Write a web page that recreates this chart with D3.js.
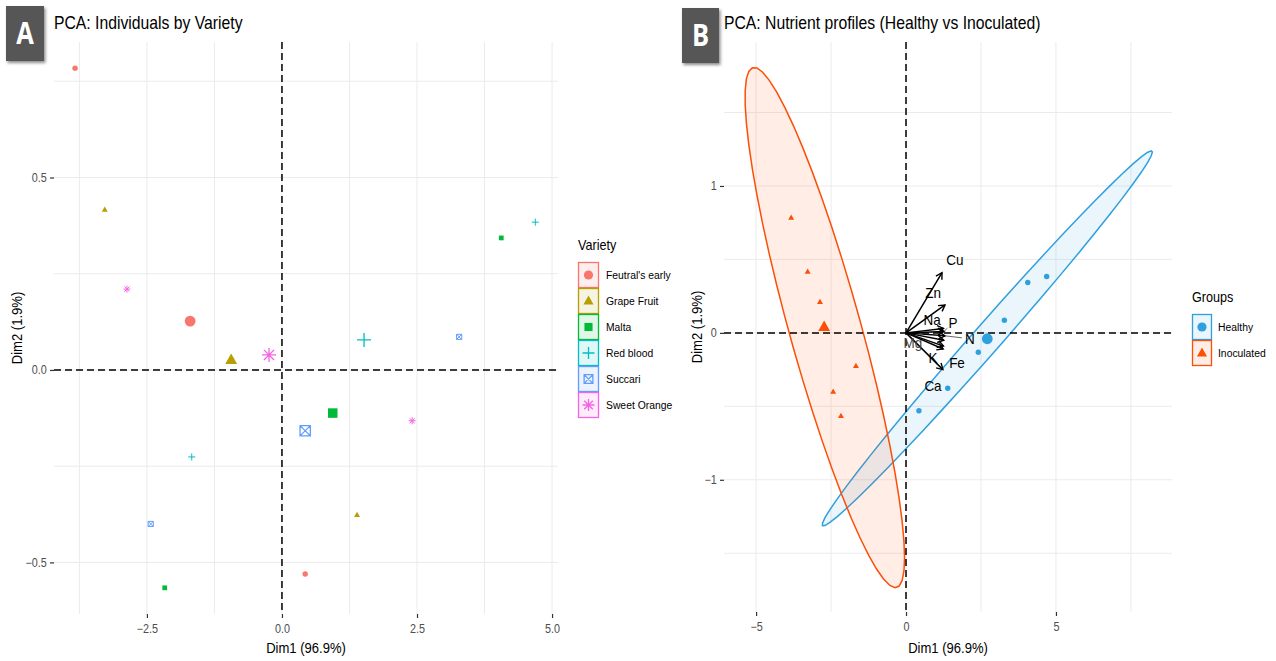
<!DOCTYPE html>
<html>
<head>
<meta charset="utf-8">
<script src="https://cdn.jsdelivr.net/npm/d3@7"></script>
<style>
  body { margin: 0; background: #fff; }
  svg { display: block; font-family: "Liberation Sans", Arial, sans-serif; }
</style>
</head>
<body>
<svg id="chart" width="1276" height="661"></svg>
<script>
// Varieties (panel A legend)
const varieties = ["Feutral's early", "Grape Fruit", "Malta", "Red blood", "Succari", "Sweet Orange"];
const varietyColors = ["#F8766D", "#B79F00", "#00BA38", "#00BFC4", "#619CFF", "#F564E3"];
const varietyShapes = ["circle", "triangle", "square", "plus", "squareCross", "asterisk"];

// Individuals: variety, group and PCA coordinates
const indVariety = ["Feutral's early", "Grape Fruit", "Sweet Orange", "Red blood", "Succari", "Malta",
                    "Feutral's early", "Grape Fruit", "Sweet Orange", "Succari", "Malta", "Red blood"];
const indGroup = ["Inoculated", "Inoculated", "Inoculated", "Inoculated", "Inoculated", "Inoculated",
                  "Healthy", "Healthy", "Healthy", "Healthy", "Healthy", "Healthy"];
const indDim1 = [-3.83, -3.28, -2.87, -1.67, -2.43, -2.17, 0.43, 1.39, 2.41, 3.28, 4.06, 4.69];
const indDim2 = [0.784, 0.416, 0.210, -0.226, -0.400, -0.566, -0.530, -0.377, -0.132, 0.086, 0.343, 0.384];

// Variety centroids (large points, panel A)
const varietyMeanDim1 = [-1.70, -0.94, 0.94, 1.52, 0.43, -0.24];
const varietyMeanDim2 = [0.127, 0.026, -0.112, 0.078, -0.158, 0.039];

// Groups (panel B)
const groups = ["Healthy", "Inoculated"];
const groupColors = ["#2E9FDF", "#FC4E07"];
const groupShapes = ["circle", "triangle"];
const groupMeanDim1 = [2.71, -2.73];
const groupMeanDim2 = [-0.04, 0.04];

// Nutrient variables (arrows, panel B)
const nutrients = ["Cu", "Zn", "Na", "P", "N", "Mg", "K", "Fe", "Ca"];
const loadDim1 = [1.20, 1.30, 1.25, 1.27, 1.30, 1.26, 1.25, 1.23, 1.24];
const loadDim2 = [0.41, 0.19, 0.03, 0.01, -0.02, -0.05, -0.09, -0.25, -0.11];
const labelDim1 = [1.63, 0.90, 0.87, 1.57, 2.13, 0.23, 0.90, 1.70, 0.90];
const labelDim2 = [0.50, 0.27, 0.09, 0.07, -0.04, -0.07, -0.17, -0.20, -0.36];
const labelSegment = [false, false, false, true, true, false, false, false, false];

// Axis ticks
const aXTicks = [-2.5, 0, 2.5, 5];
const aXMinor = [-3.75, -1.25, 1.25, 3.75];
const aYTicks = [-0.5, 0, 0.5];
const aYMinor = [-0.25, 0.25, 0.75];
const bXTicks = [-5, 0, 5];
const bXMinor = [-2.5, 2.5, 7.5];
const bYTicks = [-1, 0, 1];
const bYMinor = [-1.5, -0.5, 0.5, 1.5];

const SX = 0.9; // horizontal squeeze of the reference's text
const svg = d3.select("#chart");

const defs = svg.append("defs");
const shadow = defs.append("filter").attr("id", "shadow").attr("x", "-30%").attr("y", "-30%")
  .attr("width", "160%").attr("height", "160%");
shadow.append("feDropShadow").attr("dx", 1.5).attr("dy", 2).attr("stdDeviation", 1.5)
  .attr("flood-color", "#000").attr("flood-opacity", 0.45);

function label(g, x, y, s, o = {}) {
  return g.append("text")
    .attr("transform", `translate(${x},${y})` + (o.rotate ? ` rotate(${o.rotate})` : "") + ` scale(${SX},1)`)
    .attr("text-anchor", o.anchor || "start")
    .attr("dy", o.dy || "0.35em")
    .attr("font-size", o.size || 11)
    .attr("font-weight", o.weight || "normal")
    .attr("fill", o.fill || "#000")
    .text(s);
}

function shapePath(shape, r) {
  switch (shape) {
    case "circle":
      return `M${r},0A${r},${r} 0 1,1 ${-r},0A${r},${r} 0 1,1 ${r},0Z`;
    case "triangle":
      return `M0,${-r * 1.2}L${r * 1.1},${r * 0.75}L${-r * 1.1},${r * 0.75}Z`;
    case "square":
      return `M${-r * 0.88},${-r * 0.88}h${r * 1.76}v${r * 1.76}h${-r * 1.76}Z`;
    case "plus":
      return `M${-r * 1.3},0H${r * 1.3}M0,${-r * 1.3}V${r * 1.3}`;
    case "squareCross": {
      const s = r * 0.95;
      return `M${-s},${-s}h${2 * s}v${2 * s}h${-2 * s}ZM${-s},${-s}L${s},${s}M${s},${-s}L${-s},${s}`;
    }
    case "asterisk": {
      const s = r * 1.3, d = s * 0.72;
      return `M${-s},0H${s}M0,${-s}V${s}M${-d},${-d}L${d},${d}M${d},${-d}L${-d},${d}`;
    }
  }
}
const filledShape = (shape) => ["circle", "triangle", "square"].includes(shape);

function drawPoint(g, x, y, shape, color, r) {
  const p = g.append("path").attr("transform", `translate(${x},${y})`).attr("d", shapePath(shape, r));
  if (filledShape(shape)) p.attr("fill", color);
  else p.attr("fill", "none").attr("stroke", color).attr("stroke-width", r > 4 ? 1.3 : 1);
}

function drawFrame(x, y, xTicks, xMinor, yTicks, yMinor, fmt) {
  const [x0, x1] = x.range();
  const [y0, y1] = y.range();
  const g = svg.append("g");
  const grid = g.append("g").attr("stroke", "#ebebeb").attr("stroke-width", 1);
  xTicks.concat(xMinor).forEach((v) => {
    grid.append("line").attr("x1", x(v)).attr("x2", x(v)).attr("y1", y0).attr("y2", y1);
  });
  yTicks.concat(yMinor).forEach((v) => {
    grid.append("line").attr("y1", y(v)).attr("y2", y(v)).attr("x1", x0).attr("x2", x1);
  });

  const ax = g.append("g").attr("transform", `translate(0,${y1})`)
    .call(d3.axisBottom(x).tickValues(xTicks).tickSize(4).tickPadding(6).tickFormat(fmt));
  const ay = g.append("g").attr("transform", `translate(${x0},0)`)
    .call(d3.axisLeft(y).tickValues(yTicks).tickSize(4).tickPadding(4).tickFormat(fmt));
  [ax, ay].forEach((a) => {
    a.select(".domain").remove();
    a.selectAll(".tick line").attr("stroke", "#333").attr("stroke-width", 1.2);
    a.selectAll(".tick text").attr("fill", "#4d4d4d").attr("font-size", 12)
      .attr("font-family", "'Liberation Sans', Arial, sans-serif");
  });
  ax.selectAll(".tick text").attr("transform", `scale(${SX},1)`);
  ay.selectAll(".tick text").attr("transform", `scale(${SX},1)`);
  return g;
}

function zeroLines(g, x, y) {
  const [x0, x1] = x.range();
  const [y0, y1] = y.range();
  g.append("line").attr("x1", x0).attr("x2", x1).attr("y1", y(0)).attr("y2", y(0))
    .attr("stroke", "#000").attr("stroke-width", 1.5).attr("stroke-dasharray", "7,4");
  g.append("line").attr("x1", x(0)).attr("x2", x(0)).attr("y1", y0).attr("y2", y1)
    .attr("stroke", "#000").attr("stroke-width", 1.5).attr("stroke-dasharray", "7,4");
}

function badge(x, y, w, h, letter) {
  svg.append("rect").attr("x", x).attr("y", y).attr("width", w).attr("height", h)
    .attr("fill", "#565656").attr("filter", "url(#shadow)");
  svg.append("text").attr("x", x + w / 2).attr("y", y + h / 2).attr("dy", "0.36em")
    .attr("text-anchor", "middle").attr("fill", "#fff").attr("font-size", 30).attr("font-weight", "bold")
    .attr("font-family", "'Open Sans', 'Liberation Sans', sans-serif")
    .attr("transform", `translate(${x + w / 2},0) scale(0.85,1) translate(${-(x + w / 2)},0)`)
    .text(letter);
}

// ---------- Panel A ----------
const xA = d3.scaleLinear().domain([-4.22, 5.11]).range([54, 558]);
const yA = d3.scaleLinear().domain([0.852, -0.634]).range([42, 614]);
const gA = drawFrame(xA, yA, aXTicks, aXMinor, aYTicks, aYMinor, d3.format(".1f"));
zeroLines(gA, xA, yA);

indDim1.forEach((d, i) => {
  const v = varieties.indexOf(indVariety[i]);
  drawPoint(gA, xA(d), yA(indDim2[i]), varietyShapes[v], varietyColors[v], 2.7);
});
varieties.forEach((v, i) => {
  drawPoint(gA, xA(varietyMeanDim1[i]), yA(varietyMeanDim2[i]), varietyShapes[i], varietyColors[i], 5.4);
});

badge(6, 6, 38, 55, "A");
label(svg, 54, 23, "PCA: Individuals by Variety", { size: 17.5 });
label(svg, 306, 648, "Dim1 (96.9%)", { size: 14.5, anchor: "middle" });
label(svg, 17, 328, "Dim2 (1.9%)", { size: 14.5, anchor: "middle", rotate: -90 });

// Legend A
const legA = svg.append("g").attr("transform", "translate(578,262)");
label(legA, 0, -17, "Variety", { size: 14 });
varieties.forEach((v, i) => {
  const k = legA.append("g").attr("transform", `translate(0,${i * 26})`);
  k.append("rect").attr("x", 0.5).attr("y", 0.5).attr("width", 20).attr("height", 25)
    .attr("fill", varietyColors[i]).attr("fill-opacity", 0.12)
    .attr("stroke", varietyColors[i]).attr("stroke-width", 1.3);
  drawPoint(k, 10.5, 13, varietyShapes[i], varietyColors[i], 4.6);
  label(k, 28, 13, v, { size: 11.5 });
});

// ---------- Panel B ----------
const xB = d3.scaleLinear().domain([-6.07, 8.87]).range([724, 1172]);
const yB = d3.scaleLinear().domain([1.98, -1.90]).range([42, 612]);
const gB = drawFrame(xB, yB, bXTicks, bXMinor, bYTicks, bYMinor, d3.format("d"));

// normal-theory 95% data ellipse (as stat_ellipse type = "norm")
function ellipsePoints(xs, ys, level) {
  const n = xs.length;
  const mx = d3.mean(xs), my = d3.mean(ys);
  const sxx = d3.sum(xs, (v) => (v - mx) ** 2) / (n - 1);
  const syy = d3.sum(ys, (v) => (v - my) ** 2) / (n - 1);
  const sxy = d3.sum(xs, (v, i) => (v - mx) * (ys[i] - my)) / (n - 1);
  const dfd = n - 1;
  const qf = (dfd / 2) * (Math.pow(1 - level, -2 / dfd) - 1);
  const r = Math.sqrt(2 * qf);
  const a = Math.sqrt(sxx), b = sxy / a, c = Math.sqrt(syy - b * b);
  return d3.range(0, 52).map((k) => {
    const t = (2 * Math.PI * k) / 51;
    return [mx + r * a * Math.cos(t), my + r * (b * Math.cos(t) + c * Math.sin(t))];
  });
}
const ellLine = d3.line().x((p) => xB(p[0])).y((p) => yB(p[1])).curve(d3.curveLinearClosed);
groups.forEach((grp, gi) => {
  const idx = indGroup.map((g, i) => (g === grp ? i : -1)).filter((i) => i >= 0);
  const pts = ellipsePoints(idx.map((i) => indDim1[i]), idx.map((i) => indDim2[i]), 0.95);
  gB.append("path").attr("d", ellLine(pts))
    .attr("fill", groupColors[gi]).attr("fill-opacity", 0.1)
    .attr("stroke", groupColors[gi]).attr("stroke-width", 1.5);
});
zeroLines(gB, xB, yB);

indDim1.forEach((d, i) => {
  const gi = groups.indexOf(indGroup[i]);
  drawPoint(gB, xB(d), yB(indDim2[i]), groupShapes[gi], groupColors[gi], 2.7);
});
groups.forEach((grp, gi) => {
  drawPoint(gB, xB(groupMeanDim1[gi]), yB(groupMeanDim2[gi]), groupShapes[gi], groupColors[gi], 5.4);
});

// variable arrows
const arrows = gB.append("g");
nutrients.forEach((nm, i) => {
  const x0 = xB(0), y0 = yB(0), x1 = xB(loadDim1[i]), y1 = yB(loadDim2[i]);
  const ang = Math.atan2(y1 - y0, x1 - x0);
  const hl = 7, ha = Math.PI / 6;
  arrows.append("line").attr("x1", x0).attr("y1", y0).attr("x2", x1).attr("y2", y1)
    .attr("stroke", "#000").attr("stroke-width", 1.5);
  arrows.append("path")
    .attr("d", `M${x1 - hl * Math.cos(ang - ha)},${y1 - hl * Math.sin(ang - ha)}L${x1},${y1}L${x1 - hl * Math.cos(ang + ha)},${y1 - hl * Math.sin(ang + ha)}`)
    .attr("fill", "none").attr("stroke", "#000").attr("stroke-width", 1.4);
});
nutrients.forEach((nm, i) => {
  const tx = xB(labelDim1[i]), ty = yB(labelDim2[i]);
  if (labelSegment[i]) {
    const x1 = xB(loadDim1[i]), y1 = yB(loadDim2[i]);
    const dx = tx - x1, dy = ty - y1, len = Math.hypot(dx, dy);
    const back = 8;
    arrows.append("line").attr("x1", x1).attr("y1", y1)
      .attr("x2", tx - (dx / len) * back).attr("y2", ty - (dy / len) * back)
      .attr("stroke", "#555").attr("stroke-width", 0.9);
  }
  label(arrows, tx, ty, nm, { size: 15, anchor: "middle", fill: nm === "Mg" ? "#444" : "#000" });
});

badge(682, 8, 37, 55, "B");
label(svg, 724, 23, "PCA: Nutrient profiles (Healthy vs Inoculated)", { size: 17.5 });
label(svg, 948, 648, "Dim1 (96.9%)", { size: 14.5, anchor: "middle" });
label(svg, 697, 327, "Dim2 (1.9%)", { size: 14.5, anchor: "middle", rotate: -90 });

// Legend B
const legB = svg.append("g").attr("transform", "translate(1192,314)");
label(legB, 0, -17, "Groups", { size: 14 });
groups.forEach((grp, gi) => {
  const k = legB.append("g").attr("transform", `translate(0,${gi * 26})`);
  k.append("rect").attr("x", 0.5).attr("y", 0.5).attr("width", 19).attr("height", 25)
    .attr("fill", groupColors[gi]).attr("fill-opacity", 0.1)
    .attr("stroke", groupColors[gi]).attr("stroke-width", 1.3);
  drawPoint(k, 10, 13, groupShapes[gi], groupColors[gi], 4.6);
  label(k, 26, 13, grp, { size: 11.5 });
});
</script>
</body>
</html>
